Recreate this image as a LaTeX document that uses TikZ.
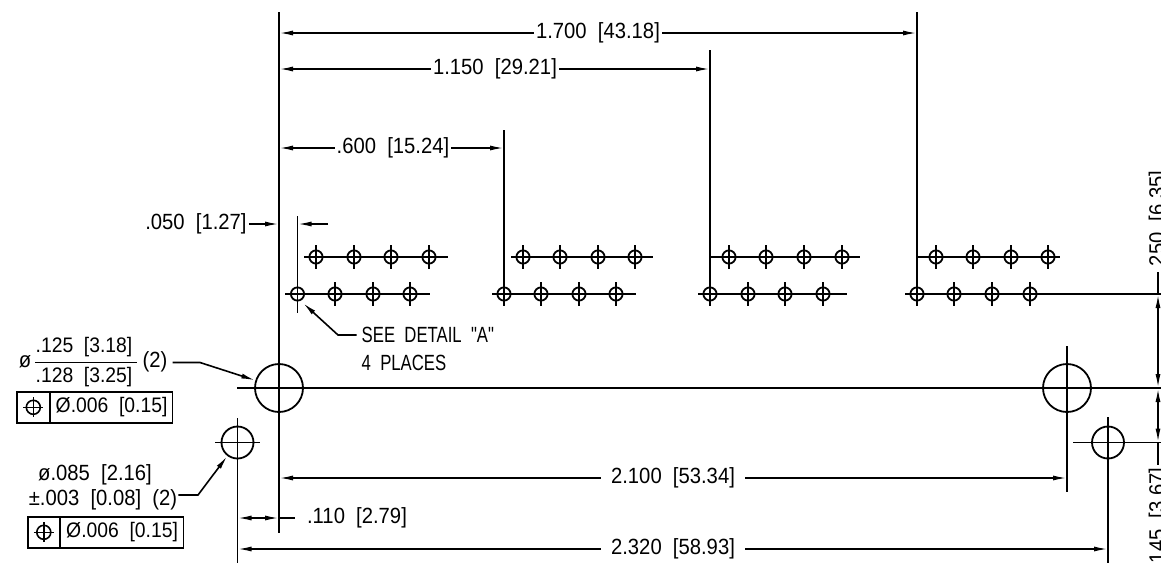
\documentclass[tikz,border=0pt]{standalone}
\usepackage{fontspec}
\setmainfont[FakeStretch=0.92,WordSpace=2]{Liberation Sans}
\newfontfamily\capsfont[FakeStretch=0.76,WordSpace=2]{Liberation Sans}
\usetikzlibrary{arrows.meta, positioning}

\tikzset{
  >={Latex[length=14pt,width=5pt]},
  part/.style={line width=1.8pt},
  dim/.style={line width=1.6pt},
  label/.style={font=\fontsize{22}{25}\selectfont, inner sep=2pt},
  note/.style={font=\fontsize{22}{25}\selectfont\capsfont, anchor=west, inner sep=0pt},
  cell/.style={draw, line width=1.6pt, inner sep=0pt, minimum height=31pt, font=\fontsize{21}{24}\selectfont},
  hole/.pic={
    \draw[part] (0,0) circle (6.6);
    \draw[part] (0,-12) -- (0,12);
  },
  posmark/.pic={
    \draw[line width=1.6pt] (0,0) circle (7);
    \draw[line width=1.6pt] (-10,0) -- (10,0) (0,-10) -- (0,10);
  }
}

\begin{document}
\begin{tikzpicture}[x=1pt, y=-1pt]
  \useasboundingbox (0,0) rectangle (1161,563);

  % datum lines
  \coordinate (datumTop) at (279,12);
  \coordinate (datumEnd) at (279,533);
  \coordinate (bigL) at (279,388);
  \coordinate (bigR) at (1067,388);
  \coordinate (smallL) at (237.5,442.5);
  \coordinate (smallR) at (1108,442.5);
  \coordinate (rowBase) at (1158,294);
  \coordinate (bigBase) at (1158,388);
  \coordinate (smallBase) at (1158,442.5);

  \draw[part] (datumTop) -- (datumEnd);
  \draw[part] (917,12) -- (917,306);
  \draw[part] (710,50) -- (710,306);
  \draw[part] (504,130) -- (504,306);
  \draw[part] (297.5,216) -- (297.5,313);

  % pin rows
  \foreach \x in {316,354,391,429, 523,560,598,635, 729,766,804,842, 936,973,1011,1048}
    \pic at (\x,257) {hole};
  \foreach \x in {297.5,335,373,410, 504,541,579,616, 710,748,785,823, 917,954,992,1030}
    \pic at (\x,294) {hole};
  \draw[part] (304,257) -- (448,257);
  \draw[part] (511,257) -- (653,257);
  \draw[part] (710,257) -- (860,257);
  \draw[part] (917,257) -- (1060,257);
  \draw[part] (285,294) -- (430,294);
  \draw[part] (492,294) -- (636,294);
  \draw[part] (698,294) -- (847,294);
  \draw[part] (905,294) -- (1161,294);

  % mounting holes
  \node[draw, circle, part, minimum size=48pt, inner sep=0pt] (holeBigL) at (bigL) {};
  \node[draw, circle, part, minimum size=48pt, inner sep=0pt] (holeBigR) at (bigR) {};
  \node[draw, circle, part, minimum size=32pt, inner sep=0pt] (holeSmallL) at (smallL) {};
  \node[draw, circle, part, minimum size=32pt, inner sep=0pt] (holeSmallR) at (smallR) {};
  \draw[part] (237,388) -- (1161,388);
  \draw[part] (1067,346) -- (1067,492);
  \draw[part] (215,442.5) -- (260,442.5);
  \draw[part] (237.5,418) -- (237.5,563);
  \draw[part] (1073,442.5) -- (1161,442.5);
  \draw[part] (1108,417) -- (1108,563);

  % top dimensions
  \node[label] (d1700) at (598,33) {1.700 [43.18]};
  \draw[dim, ->] (d1700) -- (279,33);
  \draw[dim, ->] (d1700) -- (917,33);
  \node[label] (d1150) at (495,69) {1.150 [29.21]};
  \draw[dim, ->] (d1150) -- (279,69);
  \draw[dim, ->] (d1150) -- (710,69);
  \node[label] (d600) at (393,148) {.600 [15.24]};
  \draw[dim, ->] (d600) -- (279,148);
  \draw[dim, ->] (d600) -- (504,148);
  \node[label] (d050) at (196,224) {.050 [1.27]};
  \draw[dim, ->] (d050) -- (279,224);
  \draw[dim, ->] (328,224) -- (297.5,224);

  % bottom dimensions
  \node[label, inner xsep=10pt] (d2100) at (673,478) {2.100 [53.34]};
  \draw[dim, ->] (d2100) -- (279,478);
  \draw[dim, ->] (d2100) -- (1067,478);
  \node[label, inner xsep=10pt] (d2320) at (673,549) {2.320 [58.93]};
  \draw[dim, ->] (d2320) -- (237.5,549);
  \draw[dim, ->] (d2320) -- (1108,549);
  \node[label] (d110) at (357,518) {.110 [2.79]};
  \draw[dim, <->] (237.5,518) -- (279,518);
  \draw[dim] (279,518) -- (295,518);

  % right side
  \node[label, rotate=90] (d250) at (1159,221) {.250 [6.35]};
  \node[label, rotate=90] (d145) at (1159,518) {.145 [3.67]};
  \draw[dim] (1158,272) -- (rowBase);
  \draw[dim, <->] (rowBase) -- (bigBase);
  \draw[dim, <->] (bigBase) -- (smallBase);
  \draw[dim] (smallBase) -- (1158,465);

  % detail note
  \node[note] (detail) at (361.5,335) {SEE DETAIL "A"};
  \node[note] (places) at (361.5,363) {4 PLACES};
  \draw[dim, ->] (detail.west) ++(-5,0) -- (338,335) -- (303,303);

  % large hole callout
  \node[label] (phiBig) at (25,362) {ø};
  \node[label, font=\fontsize{21}{24}\selectfont] (t125) at (84,347) {.125 [3.18]};
  \node[label, font=\fontsize{21}{24}\selectfont] (t128) at (84,377) {.128 [3.25]};
  \node[label] (qtyBig) at (155,362) {(2)};
  \draw[dim] (35,362.5) -- (136.5,362.5);
  \draw[dim, ->] (172.5,362.5) -- (200,362.5) -- (holeBigL);
  \node[cell, anchor=north west, minimum width=33pt] (markBig) at (16,391) {};
  \node[cell, right=-0.8pt of markBig, minimum width=122pt] (tolBig) {Ø.006 [0.15]};
  \pic at (markBig.center) {posmark};

  % small hole callout
  \node[label] (t085) at (95,475) {ø.085 [2.16]};
  \node[label] (t003) at (103,500) {±.003 [0.08] (2)};
  \draw[dim, ->] (t003.east) ++(-1,-5) -- (198,495) -- (holeSmallL);
  \node[cell, anchor=north west, minimum width=32pt] (markSmall) at (27,516) {};
  \node[cell, right=-0.8pt of markSmall, minimum width=123pt] (tolSmall) {Ø.006 [0.15]};
  \pic at (markSmall.center) {posmark};
\end{tikzpicture}
\end{document}
